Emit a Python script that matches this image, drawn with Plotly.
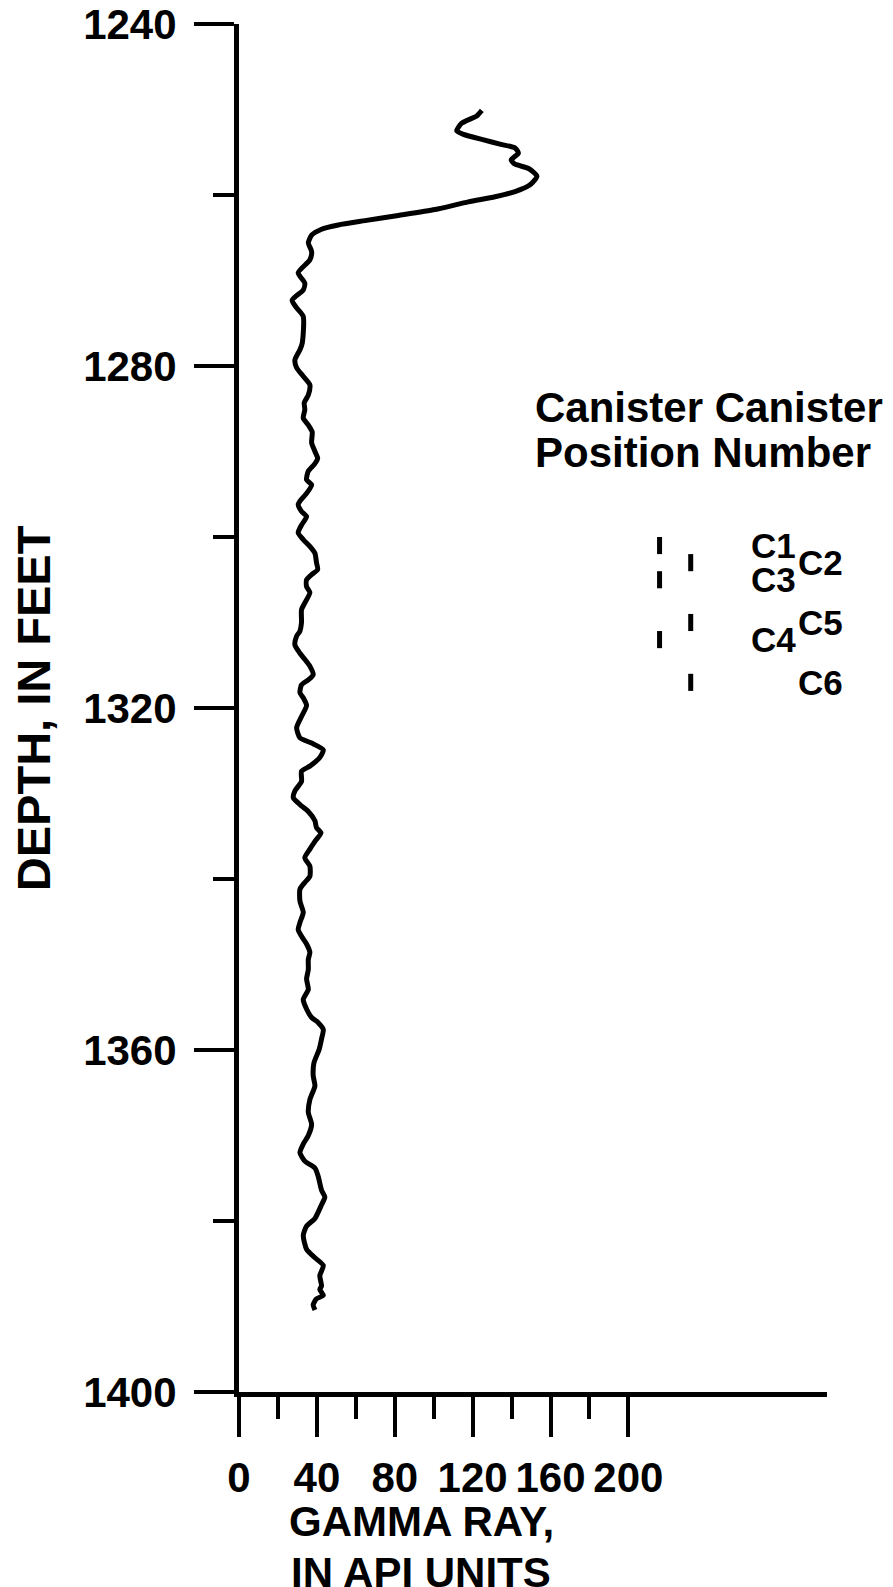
import plotly.graph_objects as go

# gamma-ray log (depth in feet, gamma ray in API units)
depth_ft = [
    1250.1, 1250.75, 1251.6, 1252.5, 1252.9, 1253.5, 1254.1, 1254.5, 1255.1, 1255.9,
    1256.4, 1256.9, 1257.8, 1258.8, 1259.6, 1260.2, 1260.8, 1261.7, 1262.4, 1263.0,
    1263.5, 1264.0, 1264.7, 1265.6, 1266.6, 1267.6, 1269.1, 1270.3, 1271.1, 1272.3,
    1273.2, 1274.2, 1277.3, 1278.1, 1279.3, 1280.2, 1281.2, 1282.2, 1283.4, 1284.3,
    1285.1, 1286.1, 1286.9, 1287.7, 1289.0, 1290.0, 1290.8, 1291.5, 1292.3, 1293.3,
    1293.9, 1294.9, 1295.8, 1296.2, 1297.0, 1297.6, 1298.6, 1299.5, 1300.3, 1301.1,
    1301.9, 1303.0, 1303.8, 1304.4, 1305.0, 1305.8, 1306.5, 1307.7, 1308.5, 1310.0,
    1311.0, 1311.6, 1312.6, 1313.6, 1314.3, 1315.1, 1316.1, 1316.7, 1317.3, 1318.2,
    1318.8, 1319.7, 1321.0, 1322.3, 1323.5, 1324.1, 1324.9, 1325.8, 1326.8, 1327.4,
    1328.6, 1329.7, 1330.5, 1331.3, 1332.1, 1333.2, 1334.0, 1334.6, 1335.6, 1336.5,
    1337.5, 1338.5, 1339.7, 1340.4, 1341.2, 1342.6, 1343.9, 1345.1, 1345.9, 1346.7,
    1347.6, 1348.6, 1349.4, 1350.6, 1351.7, 1352.9, 1354.1, 1355.2, 1356.2, 1356.8,
    1357.6, 1358.7, 1359.9, 1361.5, 1363.0, 1364.2, 1365.8, 1367.3, 1368.7, 1370.0,
    1371.0, 1372.0, 1373.0, 1373.8, 1374.8, 1376.4, 1377.2, 1378.1, 1379.7, 1380.6,
    1381.7, 1383.3, 1384.3, 1385.2, 1386.4, 1387.6, 1388.0, 1388.7, 1389.1, 1389.8,
    1390.4,
]
gamma_api = [
    124.7, 122.1, 114.4, 111.8, 115.3, 124.7, 135.0, 141.8, 143.5, 139.8,
    141.8, 148.7, 153.0, 149.5, 141.8, 131.5, 117.8, 100.7, 81.8, 64.7,
    51.0, 42.4, 37.3, 35.6, 37.3, 36.4, 30.4, 33.8, 33.0, 27.3,
    29.6, 33.0, 32.5, 31.3, 28.7, 29.6, 33.0, 36.4, 35.6, 33.5,
    33.8, 33.0, 35.6, 37.6, 37.3, 39.0, 40.4, 38.7, 35.6, 34.7,
    37.3, 34.7, 31.3, 30.4, 32.1, 34.7, 32.1, 30.4, 33.0, 36.4,
    39.0, 39.8, 40.4, 37.3, 34.7, 34.7, 36.4, 33.8, 32.1, 32.1,
    31.3, 29.6, 28.7, 31.3, 33.8, 36.4, 38.1, 35.6, 32.1, 31.3,
    33.0, 34.7, 32.1, 29.6, 31.3, 37.3, 43.3, 41.5, 36.4, 32.1,
    32.1, 28.7, 27.9, 31.3, 35.6, 39.0, 39.8, 42.1, 39.0, 36.4,
    33.8, 36.4, 36.4, 33.8, 31.3, 31.3, 33.0, 31.3, 30.4, 32.1,
    34.7, 36.4, 35.6, 35.6, 34.7, 35.6, 33.0, 34.7, 37.3, 40.7,
    43.3, 42.4, 41.2, 38.5, 38.1, 39.0, 36.4, 35.6, 37.3, 35.6,
    33.0, 31.3, 33.8, 39.0, 40.7, 42.4, 44.1, 42.4, 39.0, 34.7,
    33.0, 34.7, 39.0, 43.3, 41.5, 42.4, 41.5, 43.3, 39.8, 38.1,
    39.0,
]

# canister intervals
canister_labels = ["C1", "C2", "C3", "C4", "C5", "C6"]
canister_top = [1300, 1302, 1304, 1311, 1309, 1316]
canister_bottom = [1302, 1304, 1306, 1313, 1311, 1318]
canister_column = [216, 232, 216, 216, 232, 232]

depth_ticks = [1240, 1280, 1320, 1360, 1400]
depth_minor = [1260, 1300, 1340, 1380]
gamma_ticks = [0, 40, 80, 120, 160, 200]
gamma_minor = [20, 60, 100, 140, 180]

FONT = "Liberation Sans, Arial, sans-serif"

fig = go.Figure()
fig.add_trace(go.Scatter(x=gamma_api, y=depth_ft, mode="lines",
                         line=dict(color="black", width=5, shape="spline", smoothing=0.6),
                         showlegend=False, hoverinfo="skip"))

# canister dashes
cx, cy = [], []
for col, top, bot in zip(canister_column, canister_top, canister_bottom):
    cx += [col, col, None]
    cy += [top, bot, None]
fig.add_trace(go.Scatter(x=cx, y=cy, mode="lines", line=dict(color="black", width=5),
                         showlegend=False, hoverinfo="skip"))

# canister labels: first column labels sit further left than the second
for lab, col, top, bot in zip(canister_labels, canister_column, canister_top, canister_bottom):
    lx = 262 if col == canister_column[0] else 286
    fig.add_annotation(x=lx, y=(top + bot) / 2, text=lab, showarrow=False,
                       xanchor="left", yanchor="middle",
                       font=dict(family=FONT, size=35, weight="bold", color="black"))

fig.add_annotation(x=151, y=1284.9, text="Canister Canister", showarrow=False,
                   xanchor="left", yanchor="middle",
                   font=dict(family=FONT, size=42, weight="bold", color="black"))
fig.add_annotation(x=151, y=1290.1, text="Position Number", showarrow=False,
                   xanchor="left", yanchor="middle",
                   font=dict(family=FONT, size=42, weight="bold", color="black"))

# axis titles
fig.add_annotation(xref="paper", yref="paper", x=-0.350, y=0.5, text="DEPTH, IN FEET",
                   textangle=-90, showarrow=False, xanchor="center", yanchor="middle",
                   font=dict(family=FONT, size=47, weight="bold", color="black"))
fig.add_annotation(xref="x", yref="paper", x=93.6, y=-0.095, text="GAMMA RAY,",
                   showarrow=False, xanchor="center", yanchor="middle",
                   font=dict(family=FONT, size=42, weight="bold", color="black"))
fig.add_annotation(xref="x", yref="paper", x=93.6, y=-0.132, text="IN API UNITS",
                   showarrow=False, xanchor="center", yanchor="middle",
                   font=dict(family=FONT, size=42, weight="bold", color="black"))

fig.update_xaxes(range=[0, 302], showline=True, linecolor="black", linewidth=5,
                 showgrid=False, zeroline=False, tickmode="array", tickvals=gamma_ticks,
                 ticks="outside", ticklen=40, tickwidth=4, tickcolor="black",
                 ticklabelstandoff=5, automargin=False, ticklabeloverflow="allow",
                 minor=dict(tickmode="array", tickvals=gamma_minor, ticks="outside",
                            ticklen=22, tickwidth=4, tickcolor="black", showgrid=False))
fig.update_yaxes(range=[1400, 1240], showline=True, linecolor="black", linewidth=5,
                 showgrid=False, zeroline=False, tickmode="array", tickvals=depth_ticks,
                 ticks="outside", ticklen=40, tickwidth=4, tickcolor="black",
                 ticklabelstandoff=9, automargin=False, ticklabeloverflow="allow",
                 minor=dict(tickmode="array", tickvals=depth_minor, ticks="outside",
                            ticklen=21, tickwidth=4, tickcolor="black", showgrid=False))

# the page adds an 8px body margin, so the margins are trimmed by that much
fig.update_layout(width=893, height=1587,
                  margin=dict(l=231, r=74, t=16, b=203, autoexpand=False),
                  paper_bgcolor="white", plot_bgcolor="white",
                  font=dict(family=FONT, size=42, color="black", weight="bold"))

fig.write_html("out.html")
